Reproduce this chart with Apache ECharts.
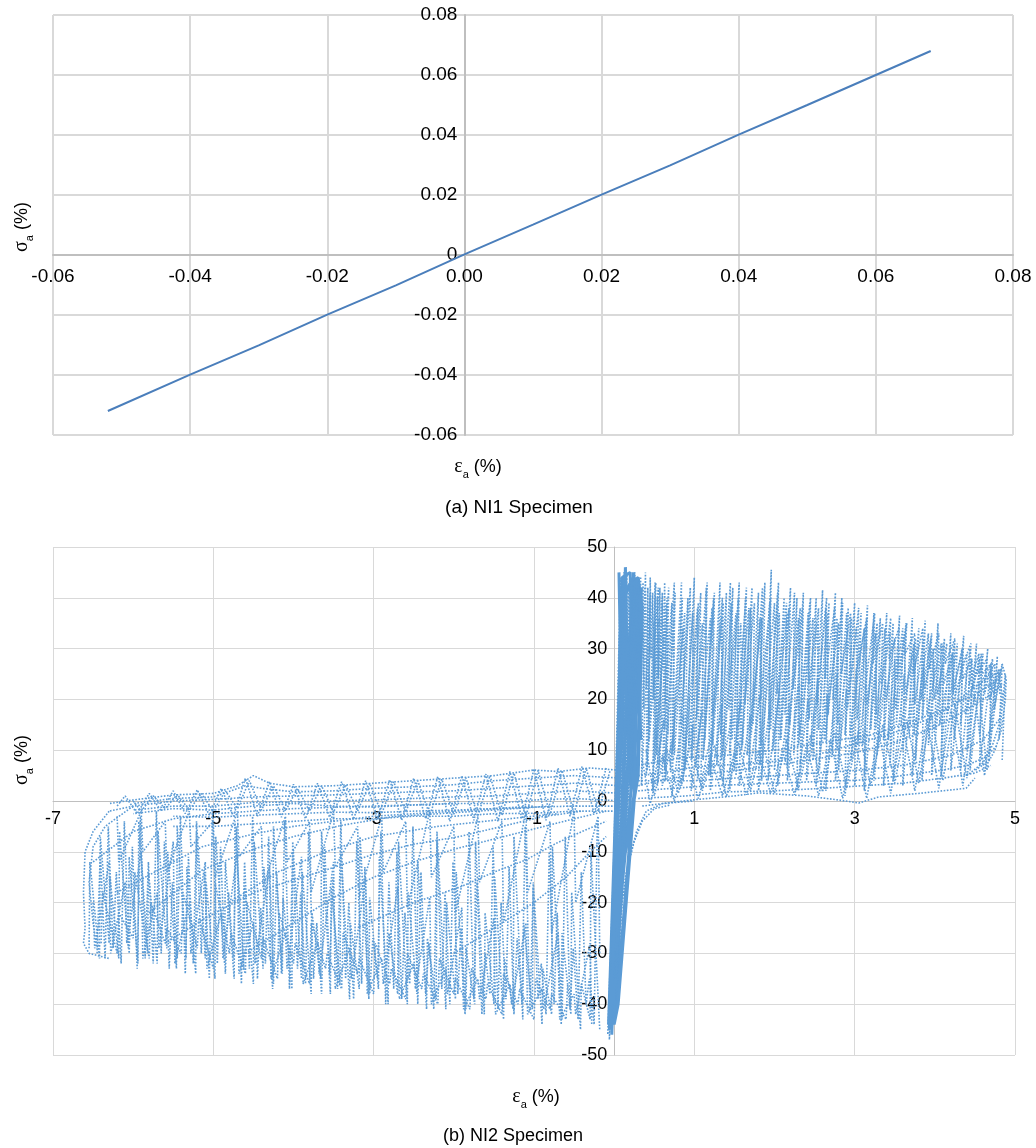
<!DOCTYPE html>
<html>
<head>
<meta charset="utf-8">
<script src="https://cdn.jsdelivr.net/npm/echarts@6/dist/echarts.min.js"></script>
<style>html,body{margin:0;padding:0;background:#fff;}#c{width:1036px;height:1148px;}</style>
</head>
<body>
<div id="c"></div>
<script>
// ---------- Top chart (NI1) ----------
const ni1Curve = [[-0.052,-0.052],[-0.04,-0.0399],[-0.03,-0.0301],[-0.02,-0.0199],[-0.01,-0.0101],[0,0.0002],[0.01,0.0101],[0.02,0.0201],[0.03,0.0299],[0.04,0.0401],[0.05,0.05],[0.06,0.06],[0.068,0.068]];
const topXTicks = ['-0.06','-0.04','-0.02','0.00','0.02','0.04','0.06','0.08'];
const topYTicks = ['-0.06','-0.04','-0.02','0','0.02','0.04','0.06','0.08'];

// ---------- Bottom chart (NI2) ----------
const botXTicks = ['-7','-5','-3','-1','1','3','5'];
const botYTicks = ['-50','-40','-30','-20','-10','0','10','20','30','40','50'];

const spine = [[-0.05,-44],[0.22,44],[-0.02,-40],[0.3,42],[-0.08,-46],[0.12,45],[0.0,-38],[0.28,40],[-0.06,-42],[0.18,43],[0.02,-35],[0.32,38],[-0.04,-45],[0.15,46],[0.04,-30],[0.25,41],[-0.07,-43],[0.2,44],[0.06,-25],[0.3,36],[-0.03,-41],[0.1,43],[0.08,-20],[0.27,42],[-0.05,-39],[0.16,45],[0.1,-15],[0.33,35],[-0.02,-44],[0.22,43],[-0.06,-47],[0.08,44],[0.03,-36],[0.26,45],[-0.04,-40],[0.14,42],[0.0,-43],[0.31,44]];
const spineSolid = [[-0.06,-45],[0.05,0],[0.1,44],[0.2,45],[0.25,0],[0.05,-40],[0.0,-44],[0.15,0],[0.3,42],[0.28,20],[0.2,0],[0.02,-30],[-0.04,-42],[0.1,-5],[0.18,30],[0.25,44],[0.12,40],[0.08,10],[0.0,-20],[-0.03,-46],[0.06,-10],[0.32,30],[0.3,10],[0.22,-3],[0.04,-38],[-0.07,-44],[0.0,-10],[0.06,20],[0.09,41],[0.3,44],[0.35,38],[0.3,5],[0.12,-12],[0.03,-33],[-0.05,-43]];
const spineTop = [[0.06,45],[0.1,10],[0.14,46],[0.18,8],[0.22,44],[0.26,6],[0.3,43],[0.33,12],[0.28,44],[0.2,3],[0.12,44],[0.04,-5],[0.08,42],[0.16,20],[0.24,45],[0.3,25],[0.34,42]];
const spineRight1 = [[0.02,-40],[0.06,-30],[0.1,-20],[0.18,-12],[0.28,-6],[0.4,-2],[0.6,-0.5],[1.0,0]];
const spineRight2 = [[0.0,-35],[0.08,-22],[0.15,-14],[0.25,-8],[0.35,-4],[0.5,-1.5],[0.7,-0.8]];

const upperRightA = [[0.38,42],[0.34,3],[0.45,41],[0.41,6],[0.52,43],[0.48,2],[0.6,40],[0.56,7],[0.68,42],[0.64,4],[0.76,41],[0.72,9],[0.84,43],[0.8,3],[0.92,40],[0.88,6],[1.0,44],[0.96,8],[1.08,41],[1.04,4],[1.16,43],[1.12,10],[1.24,40],[1.2,5],[1.32,43],[1.28,7],[1.4,41],[1.36,3],[1.48,42],[1.44,9],[1.56,43],[1.52,5],[1.64,40],[1.6,11],[1.72,42],[1.68,6],[1.8,41],[1.76,8],[1.88,43],[1.84,4],[1.96,45.5],[1.92,10],[2.04,41],[2.0,6],[2.12,40],[2.08,12],[2.2,42],[2.16,7],[2.28,40],[2.24,9],[2.36,41],[2.32,5],[2.44,39],[2.4,11],[2.52,40],[2.48,8],[2.6,41.5],[2.56,6],[2.68,39],[2.64,12],[2.76,41],[2.72,9],[2.84,40],[2.8,6],[2.92,38],[2.88,13],[3.0,39],[2.96,8],[3.08,37],[3.04,11],[3.16,38.5],[3.12,5],[3.24,37],[3.2,14],[3.32,36],[3.28,9],[3.4,37],[3.36,12],[3.48,35],[3.44,7],[3.56,36.5],[3.52,15],[3.64,35],[3.6,10],[3.72,36],[3.68,13],[3.8,34],[3.76,8],[3.88,35.5],[3.84,16],[3.96,33],[3.92,11],[4.04,35],[4.0,14],[4.12,32],[4.08,9],[4.2,33],[4.16,17],[4.28,31],[4.24,12],[4.36,32.5],[4.32,15],[4.44,30],[4.4,10],[4.52,31],[4.48,19],[4.6,29],[4.56,13],[4.66,30],[4.62,21],[4.72,28],[4.68,9],[4.78,28.5],[4.74,18],[4.84,27],[4.8,12],[4.88,25],[4.84,8]];
const upperRightB = [[0.42,38],[0.4,5],[0.56,36],[0.54,3],[0.72,39],[0.7,6],[0.88,37],[0.86,4],[1.04,38],[1.02,7],[1.2,36],[1.18,5],[1.36,39],[1.34,8],[1.52,37],[1.5,6],[1.68,38],[1.66,9],[1.84,36],[1.82,7],[2.0,39],[1.98,10],[2.16,37],[2.14,8],[2.32,38],[2.3,11],[2.48,36],[2.46,9],[2.64,38],[2.62,12],[2.8,35],[2.78,10],[2.96,36],[2.94,13],[3.12,34],[3.1,11],[3.28,35],[3.26,14],[3.44,33],[3.42,12],[3.6,34],[3.58,15],[3.76,32],[3.74,13],[3.92,33],[3.9,17],[4.08,31],[4.06,15],[4.24,31],[4.22,19],[4.4,29],[4.38,17],[4.56,28],[4.54,22],[4.7,27],[4.68,20],[4.82,26],[4.8,23]];
const upperRightC = [[0.45,40],[0.43,12],[0.55,42],[0.53,9],[0.65,39],[0.63,14],[0.75,43],[0.73,10],[0.85,40],[0.83,15],[0.95,42],[0.93,11],[1.05,39],[1.03,16],[1.15,42],[1.13,12],[1.25,41],[1.23,17],[1.35,40],[1.33,13],[1.45,43],[1.43,18],[1.55,40],[1.53,14],[1.65,42],[1.63,19],[1.75,39],[1.73,15],[1.85,42],[1.83,20],[1.95,40],[1.93,16],[2.05,43],[2.03,21],[2.15,39],[2.13,17],[2.25,41],[2.23,22],[2.35,38],[2.33,18],[2.45,40],[2.43,23],[2.55,38],[2.53,19],[2.65,40],[2.63,24],[2.75,38],[2.73,20],[2.85,39],[2.83,25],[2.95,37],[2.93,21],[3.05,38],[3.03,26],[3.15,36],[3.13,22],[3.25,37],[3.23,27],[3.35,35],[3.33,23],[3.45,36],[3.43,28],[3.55,34],[3.53,24],[3.65,35],[3.63,29],[3.75,33],[3.73,25],[3.85,34],[3.83,20],[3.95,32],[3.93,26],[4.05,33],[4.03,21],[4.15,31],[4.13,27],[4.25,32],[4.23,22],[4.35,30],[4.33,26],[4.45,31],[4.43,23],[4.55,29],[4.53,25],[4.65,28],[4.63,24],[4.75,27],[4.73,23]];
const upperRightD = [[0.5,14],[0.48,2],[0.62,16],[0.6,3],[0.74,13],[0.72,1],[0.86,17],[0.84,3],[0.98,15],[0.96,2],[1.1,18],[1.08,3],[1.22,14],[1.2,2],[1.34,19],[1.32,4],[1.46,16],[1.44,2],[1.58,20],[1.56,3],[1.7,17],[1.68,4],[1.82,21],[1.8,2],[1.94,18],[1.92,4],[2.06,22],[2.04,3],[2.18,19],[2.16,4],[2.3,23],[2.28,2],[2.42,20],[2.4,4],[2.54,24],[2.52,3],[2.66,21],[2.64,2],[2.78,25],[2.76,4],[2.9,22],[2.88,1],[3.02,26],[3.0,3],[3.14,23],[3.12,2],[3.26,27],[3.24,4],[3.38,24],[3.36,3],[3.5,28],[3.48,4],[3.62,25],[3.6,3],[3.74,29],[3.72,5],[3.86,26],[3.84,4],[3.98,28],[3.96,5],[4.1,27],[4.08,5],[4.22,29],[4.2,6],[4.34,27],[4.32,6],[4.46,28],[4.44,6],[4.58,27],[4.56,7],[4.7,26],[4.68,8]];
const upperRightE = [[0.33,44],[0.34,25],[0.36,43],[0.37,18],[0.39,45],[0.4,22],[0.42,42],[0.43,15],[0.45,44],[0.46,28],[0.48,41],[0.49,20],[0.51,43],[0.52,12],[0.54,40],[0.55,24],[0.57,42],[0.58,16],[0.6,41],[0.61,26],[0.63,43],[0.64,19],[0.66,40],[0.67,13]];
const upperRightF = [[0.5,35],[0.51,8],[0.62,33],[0.63,6],[0.74,36],[0.75,9],[0.86,34],[0.87,7],[0.98,37],[0.99,10],[1.1,35],[1.11,8],[1.22,38],[1.23,11],[1.34,36],[1.35,9],[1.46,39],[1.47,12],[1.58,35],[1.59,10],[1.7,38],[1.71,13],[1.82,36],[1.83,11],[1.94,39],[1.95,14],[2.06,37],[2.07,12],[2.18,38],[2.19,15],[2.3,36],[2.31,13],[2.42,37],[2.43,16],[2.54,35],[2.55,14],[2.66,37],[2.67,17],[2.78,36],[2.79,15],[2.9,37],[2.91,18],[3.02,34],[3.03,16],[3.14,35],[3.15,19],[3.26,33],[3.27,17],[3.38,34],[3.39,20],[3.5,32],[3.51,18],[3.62,33],[3.63,21],[3.74,31],[3.75,19],[3.86,32],[3.87,22],[3.98,30],[3.99,20],[4.1,31],[4.11,23],[4.22,29],[4.23,21],[4.34,30],[4.35,24],[4.46,28],[4.47,22],[4.58,29],[4.59,25],[4.7,27],[4.71,22],[4.8,26],[4.81,21]];
const rightEdge1 = [[4.84,27],[4.89,24],[4.88,20],[4.83,14],[4.75,10],[4.68,8],[4.5,6]];
const rightEdge2 = [[4.8,25],[4.84,21],[4.8,15],[4.72,11],[4.6,7.5],[4.4,5]];

const posBand1 = [[0.3,5],[0.6,5.5],[1,6.7],[1.5,7.2],[2,7.8],[2.5,9],[3,11.2],[3.5,13.5],[3.9,16],[4.2,18.5],[4.5,22.5],[4.7,24.5],[4.85,26]];
const posBand2 = [[0.3,3],[0.7,4.5],[1.2,5.5],[1.8,6.5],[2.4,8],[3,9.5],[3.5,11.5],[4,14.5],[4.4,18],[4.7,21],[4.85,23]];
const posBand3 = [[0.3,7],[0.8,8.5],[1.4,9],[2,10],[2.6,11.5],[3.2,13],[3.7,15.5],[4.1,18],[4.5,21],[4.8,24]];
const posBand4 = [[0.3,2],[1,2.8],[1.5,3.2],[2,3.5],[2.5,3.8],[3.05,4.1],[3.5,4.8],[4.1,6.1],[4.4,7],[4.64,8.7],[4.78,11]];
const posBand5 = [[0.3,0.5],[0.9,1],[1.4,1.8],[2,2],[2.6,2.5],[3.1,3],[3.6,3.5],[4.1,4.5],[4.5,5.5],[4.7,7]];
const posBand6 = [[0.35,-1],[0.97,0.2],[1.5,1],[1.8,1.6],[2.4,1],[2.8,0.2],[3.05,-0.4],[3.3,0.8],[3.8,1.5],[4.39,2.5],[4.5,4.5]];
const posBand7 = [[0.3,4],[1,4],[2,5],[3,6],[3.6,7],[4.2,9],[4.6,12],[4.8,16]];
const posBandZig = [[0.35,8],[0.45,-0.5],[0.6,9],[0.75,0],[0.9,8.5],[1.05,0.5],[1.2,9],[1.35,1],[1.5,9.5],[1.65,1.2],[1.8,10],[1.95,1.5],[2.1,10],[2.25,1.2],[2.4,11],[2.55,1],[2.7,12],[2.85,0.5],[3.0,12.5],[3.15,0.5],[3.3,13.5],[3.45,1.5],[3.6,15],[3.75,2],[3.9,16],[4.05,2.5],[4.2,18],[4.35,3],[4.5,21],[4.62,5],[4.75,23]];
const posBandZig2 = [[0.4,10],[0.5,1],[0.65,10.5],[0.8,1.5],[0.95,11],[1.1,2],[1.25,11],[1.4,0.8],[1.55,11.5],[1.7,2],[1.85,12],[2.0,1.5],[2.15,12],[2.3,2.5],[2.45,13],[2.6,1.8],[2.75,13.5],[2.9,2.5],[3.05,14],[3.2,3],[3.35,15],[3.5,3.5],[3.65,16],[3.8,3.5],[3.95,17.5],[4.1,4],[4.25,19],[4.4,4.5],[4.55,22],[4.65,6],[4.8,25]];

const negBand1 = [[0.1,6],[-0.3,6.5],[-0.7,5.8],[-1,6.1],[-1.5,5],[-2,4.5],[-2.5,4],[-3,3.5],[-3.5,3],[-4,2.8],[-4.3,3.5],[-4.5,5],[-4.7,3],[-5,1.5],[-5.5,1.2],[-6,0.2],[-6.3,-0.5]];
const negBand2 = [[0.1,3],[-0.5,3.5],[-1,3],[-1.5,2.5],[-2,2],[-2.5,1.8],[-3,1.5],[-3.5,1.2],[-4,1],[-4.5,0.8],[-5,0.3],[-5.5,0],[-6,-1],[-6.3,-2]];
const negBand3 = [[0.1,0],[-0.5,0.5],[-1,0.2],[-1.5,-0.5],[-2,-0.5],[-2.5,-0.8],[-3,-1.2],[-3.5,-1],[-4,-0.5],[-4.5,-1],[-5,-1.8],[-5.5,-1.5],[-6,-2.5]];
const negBand4 = [[0.1,-2],[-0.5,-2],[-1,-2.4],[-1.5,-2.5],[-2,-3],[-2.5,-3],[-3,-3.5],[-3.5,-3.5],[-4,-4],[-4.5,-4.5],[-5,-5],[-5.5,-5]];
const negBand5 = [[0.1,4.5],[-0.5,5],[-1,4.5],[-1.5,4],[-2,3.2],[-2.5,2.8],[-3,2.5],[-3.5,2],[-4,1.8],[-4.4,2.5],[-4.6,3],[-5,0.8],[-5.5,0.5],[-6,-0.5]];
const negBand6 = [[0.1,1.5],[-0.5,2],[-1,1.5],[-1.5,1],[-2,0.8],[-2.5,0.5],[-3,0.2],[-3.5,0],[-4,-0.2],[-4.5,-0.3],[-5,-1],[-5.5,-1],[-6,-1.8]];
const negBand7 = [[0.1,-1],[-0.5,-1],[-1,-1.2],[-1.5,-1.5],[-2,-1.8],[-2.5,-2],[-3,-2.3],[-3.5,-2.2],[-4,-2.5],[-4.5,-2.8],[-5,-3.2],[-5.5,-3]];
const negBandZig = [[-6.0,0],[-5.9,-2],[-5.75,1],[-5.6,-1.5],[-5.45,1.3],[-5.3,-1.8],[-5.15,1.5],[-5.0,-2],[-4.85,2],[-4.7,-1.5],[-4.55,4],[-4.4,-1.8],[-4.25,3],[-4.1,-2],[-3.95,2.5],[-3.8,-2],[-3.65,3],[-3.5,-2.2],[-3.35,3.2],[-3.2,-2],[-3.05,3.5],[-2.9,-2.5],[-2.75,3.8],[-2.6,-2.2],[-2.45,4],[-2.3,-2.8],[-2.15,4.3],[-2.0,-2.6],[-1.85,4.6],[-1.7,-3],[-1.55,5],[-1.4,-2.8],[-1.25,5.5],[-1.1,-3],[-0.95,6],[-0.8,-2.6],[-0.65,6],[-0.5,-2.5],[-0.35,6.5],[-0.2,-2],[-0.05,6]];
const negBandZig2 = [[-6.2,-1],[-6.1,1],[-5.95,-2.5],[-5.8,1.5],[-5.65,-2],[-5.5,2],[-5.35,-2.5],[-5.2,2.2],[-5.05,-2.8],[-4.9,2.5],[-4.75,-3],[-4.6,4.5],[-4.45,-3],[-4.3,3.8],[-4.15,-3.2],[-4.0,3.3],[-3.85,-3.5],[-3.7,3.5],[-3.55,-3.2],[-3.4,3.8],[-3.25,-3.6],[-3.1,4],[-2.95,-3.5],[-2.8,4.2],[-2.65,-3.8],[-2.5,4.5],[-2.35,-3.5],[-2.2,4.8],[-2.05,-4],[-1.9,5],[-1.75,-3.8],[-1.6,5.3],[-1.45,-4],[-1.3,5.8],[-1.15,-3.5],[-1.0,6.3],[-0.85,-3.8],[-0.7,6.5],[-0.55,-3],[-0.4,6.8],[-0.25,-2.5],[-0.1,6.5]];

const fan1 = [[-6.5,-12],[-6,-6],[-5.5,-3.5],[-5,-2.5],[-4,-1.5],[-3,-1],[-2,-0.5]];
const fan2 = [[-6.2,-18],[-5.5,-12],[-5.14,-9],[-4.5,-6.5],[-4,-5],[-3,-3],[-2,-2],[-1,-1]];
const fan3 = [[-5.8,-22],[-5.14,-13.6],[-4.5,-9.5],[-4,-7],[-3.4,-4.8],[-2.77,-3.1],[-2,-2.3],[-1.52,-1.8],[-0.8,-1]];
const fan4 = [[-5.6,-28],[-5.14,-23.4],[-4.5,-18],[-3.6,-13.6],[-3,-10.5],[-2.5,-8.5],[-1.93,-7],[-1.4,-5],[-0.9,-3.1],[-0.4,-2]];
const fan5 = [[-4.6,-30],[-4,-24],[-3.5,-19],[-3,-15],[-2.5,-12],[-2,-9.5],[-1.5,-7.5],[-1,-5.5],[-0.5,-3.5],[-0.1,-2]];
const fan6 = [[-3.18,-24.8],[-2.5,-20],[-1.93,-17],[-1.5,-14],[-1.1,-11.6],[-0.72,-8.3],[-0.4,-6],[-0.1,-4]];
const fan7 = [[-2,-30],[-1.5,-25],[-1,-20],[-0.6,-15],[-0.3,-10],[-0.1,-7]];
const fan8 = [[-4.8,-20],[-4.2,-14],[-3.6,-10],[-3,-7],[-2.2,-5],[-1.5,-3.8],[-0.7,-2.5]];

const leftEdge1 = [[-6.3,-2],[-6.5,-6],[-6.6,-10],[-6.62,-18],[-6.6,-25],[-6.62,-28],[-6.55,-30],[-6.3,-31]];
const leftEdge2 = [[-6.0,-1],[-6.35,-5],[-6.5,-9],[-6.55,-16],[-6.5,-24],[-6.45,-29]];

const lowerLeftA = [[-6.45,-30],[-6.41,-10],[-6.35,-31],[-6.31,-5],[-6.25,-29],[-6.21,-14],[-6.15,-32],[-6.11,-4],[-6.05,-30],[-6.01,-9],[-5.95,-33],[-5.91,-3],[-5.85,-31],[-5.81,-12],[-5.75,-32],[-5.71,-2],[-5.65,-30],[-5.61,-8],[-5.55,-33],[-5.51,-16],[-5.45,-31],[-5.41,-3],[-5.35,-34],[-5.31,-11],[-5.25,-32],[-5.21,-6],[-5.15,-30],[-5.11,-14],[-5.05,-35],[-5.01,-2],[-4.95,-32],[-4.91,-9],[-4.85,-34],[-4.81,-18],[-4.75,-31],[-4.71,-5],[-4.65,-36],[-4.61,-12],[-4.55,-33],[-4.51,-3],[-4.45,-35],[-4.41,-21],[-4.35,-32],[-4.31,-7],[-4.25,-36],[-4.21,-14],[-4.15,-34],[-4.11,-4],[-4.05,-37],[-4.01,-10],[-3.95,-33],[-3.91,-18],[-3.85,-36],[-3.81,-6],[-3.75,-35],[-3.71,-24],[-3.65,-38],[-3.61,-9],[-3.55,-34],[-3.51,-15],[-3.45,-37],[-3.41,-4],[-3.35,-35],[-3.31,-20],[-3.25,-39],[-3.21,-8],[-3.15,-36],[-3.11,-13],[-3.05,-38],[-3.01,-27],[-2.95,-35],[-2.91,-6],[-2.85,-40],[-2.81,-16],[-2.75,-37],[-2.71,-10],[-2.65,-39],[-2.61,-22],[-2.55,-36],[-2.51,-5],[-2.45,-40],[-2.41,-14],[-2.35,-38],[-2.31,-28],[-2.25,-41],[-2.21,-8],[-2.15,-37],[-2.11,-18],[-2.05,-40],[-2.01,-12],[-1.95,-38],[-1.91,-25],[-1.85,-41],[-1.81,-6],[-1.75,-39],[-1.71,-16],[-1.65,-42],[-1.61,-30],[-1.55,-38],[-1.51,-9],[-1.45,-41],[-1.41,-20],[-1.35,-39],[-1.31,-13],[-1.25,-42],[-1.21,-27],[-1.15,-40],[-1.11,-5],[-1.05,-41],[-1.01,-17],[-0.95,-39],[-0.91,-32],[-0.85,-42],[-0.81,-10],[-0.75,-40],[-0.71,-22],[-0.65,-43],[-0.61,-7],[-0.55,-41],[-0.51,-29],[-0.45,-43],[-0.41,-14],[-0.35,-40],[-0.31,-35],[-0.25,-44],[-0.21,-4]];
const lowerLeftB = [[-6.4,-28],[-6.38,-18],[-6.2,-30],[-6.18,-22],[-6.0,-27],[-5.98,-14],[-5.8,-31],[-5.78,-20],[-5.6,-28],[-5.58,-25],[-5.4,-30],[-5.38,-18],[-5.2,-29],[-5.18,-23],[-5.0,-33],[-4.98,-16],[-4.8,-30],[-4.78,-26],[-4.6,-34],[-4.58,-20],[-4.4,-31],[-4.38,-27],[-4.2,-35],[-4.18,-22],[-4.0,-32],[-3.98,-28],[-3.8,-36],[-3.78,-24],[-3.6,-33],[-3.58,-30],[-3.4,-37],[-3.38,-26],[-3.2,-34],[-3.18,-31],[-3.0,-38],[-2.98,-28],[-2.8,-36],[-2.78,-33],[-2.6,-39],[-2.58,-30],[-2.4,-37],[-2.38,-34],[-2.2,-40],[-2.18,-31],[-2.0,-38],[-1.98,-35],[-1.8,-41],[-1.78,-33],[-1.6,-39],[-1.58,-36],[-1.4,-42],[-1.38,-34],[-1.2,-40],[-1.18,-37],[-1.0,-43],[-0.98,-35],[-0.8,-41],[-0.78,-38],[-0.6,-43],[-0.58,-36]];
const lowerLeftC = [[-6.5,-20],[-6.48,-29],[-6.3,-12],[-6.28,-30],[-6.1,-16],[-6.08,-28],[-5.9,-10],[-5.88,-31],[-5.7,-18],[-5.68,-29],[-5.5,-8],[-5.48,-32],[-5.3,-20],[-5.28,-30],[-5.1,-12],[-5.08,-33],[-4.9,-22],[-4.88,-31],[-4.7,-10],[-4.68,-34],[-4.5,-24],[-4.48,-32],[-4.3,-13],[-4.28,-35],[-4.1,-26],[-4.08,-33],[-3.9,-11],[-3.88,-36],[-3.7,-28],[-3.68,-34],[-3.5,-12],[-3.48,-37],[-3.3,-29],[-3.28,-35],[-3.1,-15],[-3.08,-38],[-2.9,-31],[-2.88,-36],[-2.7,-17],[-2.68,-39],[-2.5,-32],[-2.48,-37],[-2.3,-19],[-2.28,-40],[-2.1,-33],[-2.08,-38],[-1.9,-21],[-1.88,-41],[-1.7,-35],[-1.68,-39],[-1.5,-23],[-1.48,-42],[-1.3,-36],[-1.28,-40],[-1.1,-24],[-1.08,-42],[-0.9,-37],[-0.88,-41],[-0.7,-26],[-0.68,-43],[-0.5,-38],[-0.48,-42],[-0.3,-28],[-0.28,-44]];
const lowerLeftD = [[-6.2,-3],[-6.18,-12],[-5.9,-2],[-5.88,-10],[-5.6,-4],[-5.58,-14],[-5.3,-2],[-5.28,-9],[-5.0,-4],[-4.98,-15],[-4.7,-2],[-4.68,-11],[-4.4,-5],[-4.38,-17],[-4.1,-3],[-4.08,-12],[-3.8,-4],[-3.78,-18],[-3.5,-2],[-3.48,-13],[-3.2,-5],[-3.18,-19],[-2.9,-3],[-2.88,-14],[-2.6,-4],[-2.58,-21],[-2.3,-2],[-2.28,-15],[-2.0,-5],[-1.98,-22],[-1.7,-3],[-1.68,-16],[-1.4,-4],[-1.38,-24],[-1.1,-2],[-1.08,-18],[-0.8,-4],[-0.78,-26],[-0.5,-2],[-0.48,-20],[-0.2,-3],[-0.18,-30]];
const lowerLeftE = [[-6.55,-29],[-6.54,-12],[-6.42,-31],[-6.41,-7],[-6.3,-28],[-6.29,-15],[-6.18,-31],[-6.17,-6],[-6.06,-29],[-6.05,-11],[-5.94,-32],[-5.93,-4],[-5.82,-30],[-5.81,-14],[-5.7,-32],[-5.69,-6],[-5.58,-29],[-5.57,-10],[-5.46,-33],[-5.45,-5],[-5.34,-31],[-5.33,-13],[-5.22,-34],[-5.21,-4],[-5.1,-31],[-5.09,-16],[-4.98,-35],[-4.97,-7],[-4.86,-32],[-4.85,-12],[-4.74,-35],[-4.73,-4],[-4.62,-33],[-4.61,-17],[-4.5,-36],[-4.49,-8],[-4.38,-33],[-4.37,-13],[-4.26,-37],[-4.25,-5],[-4.14,-34],[-4.13,-19],[-4.02,-37],[-4.01,-8],[-3.9,-35],[-3.89,-14],[-3.78,-38],[-3.77,-22],[-3.66,-35],[-3.65,-6],[-3.54,-38],[-3.53,-17],[-3.42,-36],[-3.41,-10],[-3.3,-39],[-3.29,-24],[-3.18,-37],[-3.17,-7],[-3.06,-39],[-3.05,-19],[-2.94,-37],[-2.93,-11],[-2.82,-40],[-2.81,-26],[-2.7,-38],[-2.69,-8],[-2.58,-40],[-2.57,-18],[-2.46,-38],[-2.45,-12],[-2.34,-41],[-2.33,-27],[-2.22,-39],[-2.21,-6],[-2.1,-41],[-2.09,-20],[-1.98,-39],[-1.97,-14],[-1.86,-42],[-1.85,-29],[-1.74,-40],[-1.73,-8],[-1.62,-42],[-1.61,-22],[-1.5,-40],[-1.49,-15],[-1.38,-43],[-1.37,-31],[-1.26,-41],[-1.25,-7],[-1.14,-43],[-1.13,-24],[-1.02,-41],[-1.01,-16],[-0.9,-44],[-0.89,-33],[-0.78,-42],[-0.77,-9],[-0.66,-44],[-0.65,-26],[-0.54,-42],[-0.53,-18],[-0.42,-45],[-0.41,-36],[-0.3,-43],[-0.29,-10],[-0.18,-45]];

const ni2Dotted = [spine, spineRight1, spineRight2,
  upperRightA, upperRightB, upperRightC, upperRightD, upperRightE, upperRightF, rightEdge1, rightEdge2,
  posBand1, posBand2, posBand3, posBand4, posBand5, posBand6, posBand7, posBandZig, posBandZig2,
  negBand1, negBand2, negBand3, negBand4, negBand5, negBand6, negBand7, negBandZig, negBandZig2,
  fan1, fan2, fan3, fan4, fan5, fan6, fan7, fan8, leftEdge1, leftEdge2,
  lowerLeftA, lowerLeftB, lowerLeftC, lowerLeftD, lowerLeftE];
const ni2Solid = [spineSolid, spineTop];

// ---------- chart ----------
const chart = echarts.init(document.getElementById('c'), null, {renderer:'canvas'});
const FONT = "'Liberation Sans', Arial, sans-serif";
const GREEK = "'Liberation Serif', 'DejaVu Serif', serif";
const BLUE = '#5b9bd5';

function labelFrom(list){ return function(v){ for (const s of list){ if (Math.abs(parseFloat(s)-v) < 1e-9) return s; } return ''; }; }

const series = [{
  type:'line', xAxisIndex:0, yAxisIndex:0, data: ni1Curve, symbol:'none', silent:true,
  lineStyle:{color:'#4a7ebb', width:2}
}];
ni2Solid.forEach(p => series.push({
  type:'line', xAxisIndex:1, yAxisIndex:1, data:p, symbol:'none', silent:true,
  lineStyle:{color:BLUE, width:3}
}));
ni2Dotted.forEach(p => series.push({
  type:'line', xAxisIndex:1, yAxisIndex:1, data:p, symbol:'none', silent:true,
  lineStyle:{color:BLUE, width:1.6, type:'dotted'}
}));

function titleText(greek, x, y, rot, size){
  return {
    type:'text', x:x, y:y, rotation: rot,
    style:{
      text:'{g|' + greek + '}{s|a}{t| (%)}',
      align:'center', verticalAlign:'middle',
      rich:{
        g:{fontFamily:GREEK, fontSize:size+2, lineHeight:26, verticalAlign:'middle', fill:'#000'},
        s:{fontFamily:FONT, fontSize:size-7, lineHeight:13, verticalAlign:'bottom', fill:'#000'},
        t:{fontFamily:FONT, fontSize:size, lineHeight:26, verticalAlign:'middle', fill:'#000'}
      }
    }
  };
}

// zero positions in pixels -> axis offsets
const topW = 960, topH = 420, botW = 962, botH = 508;
const topYOff = -topW * (0 - (-0.06)) / 0.14;
const topXOff = -topH * (0 - (-0.06)) / 0.14;
const botYOff = -botW * (0 - (-7)) / 12;
const botXOff = -botH * (0 - (-50)) / 100;

chart.setOption({
  animation:false,
  backgroundColor:'#fff',
  grid:[
    {left:53, right:23, top:15, height:topH},
    {left:53, right:21, top:547, height:botH}
  ],
  xAxis:[
    {type:'value', gridIndex:0, min:-0.06, max:0.08, interval:0.02, position:'bottom', offset:topXOff,
      axisLine:{onZero:false, lineStyle:{color:'#bfbfbf', width:2}}, axisTick:{show:false},
      axisLabel:{formatter:labelFrom(topXTicks), color:'#000', fontSize:19, fontFamily:FONT, margin:12, hideOverlap:false},
      splitLine:{show:true, lineStyle:{color:'#d9d9d9', width:2}}},
    {type:'value', gridIndex:1, min:-7, max:5, interval:2, position:'bottom', offset:botXOff,
      axisLine:{onZero:false, lineStyle:{color:'#bfbfbf', width:1}}, axisTick:{show:false},
      axisLabel:{formatter:labelFrom(botXTicks), color:'#000', fontSize:18, fontFamily:FONT, margin:9, hideOverlap:false},
      splitLine:{show:true, lineStyle:{color:'#d9d9d9', width:1}}}
  ],
  yAxis:[
    {type:'value', gridIndex:0, min:-0.06, max:0.08, interval:0.02, position:'left', offset:topYOff,
      axisLine:{show:true, onZero:false, lineStyle:{color:'#bfbfbf', width:2}}, axisTick:{show:false},
      axisLabel:{formatter:labelFrom(topYTicks), color:'#000', fontSize:19, fontFamily:FONT, margin:7, hideOverlap:false},
      splitLine:{show:true, lineStyle:{color:'#d9d9d9', width:2}}},
    {type:'value', gridIndex:1, min:-50, max:50, interval:10, position:'left', offset:botYOff,
      axisLine:{show:true, onZero:false, lineStyle:{color:'#bfbfbf', width:1}}, axisTick:{show:false},
      axisLabel:{formatter:labelFrom(botYTicks), color:'#000', fontSize:18, fontFamily:FONT, margin:7, hideOverlap:false},
      splitLine:{show:true, lineStyle:{color:'#d9d9d9', width:1}}}
  ],
  series: series,
  graphic:[
    titleText('σ', 22, 227, Math.PI/2, 18),
    titleText('ε', 478, 467, 0, 18),
    {type:'text', x:519, y:508, style:{text:'(a) NI1 Specimen', align:'center', verticalAlign:'middle', fontFamily:FONT, fontSize:19, fill:'#000'}},
    titleText('σ', 22, 760, Math.PI/2, 18),
    titleText('ε', 536, 1097, 0, 18),
    {type:'text', x:513, y:1136, style:{text:'(b) NI2 Specimen', align:'center', verticalAlign:'middle', fontFamily:FONT, fontSize:18, fill:'#000'}}
  ]
});
</script>
</body>
</html>
